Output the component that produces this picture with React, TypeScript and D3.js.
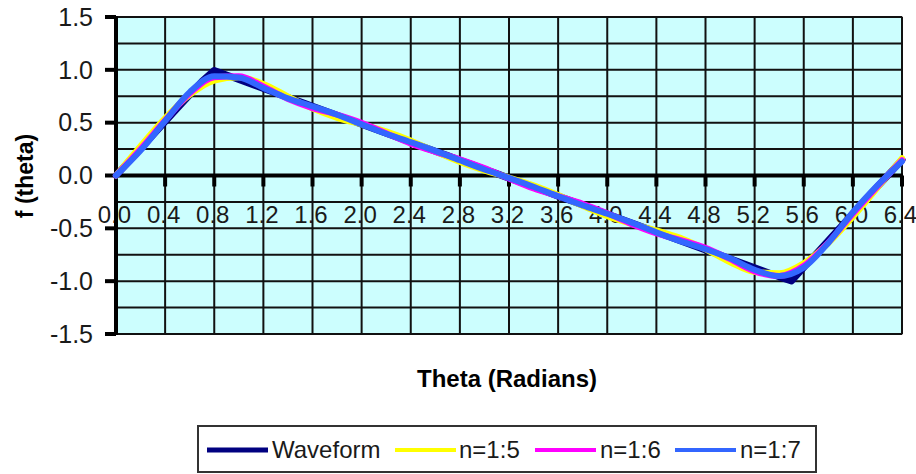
import React from "react";
import * as d3 from "d3";

// ---- data ----
const waveTheta = [
  0, 0.1, 0.2, 0.3, 0.4, 0.5, 0.6, 0.7, 0.8, 0.9, 1.0, 1.1, 1.2, 1.3, 1.4, 1.5,
  1.6, 1.7, 1.8, 1.9, 2.0, 2.1, 2.2, 2.3, 2.4, 2.5, 2.6, 2.7, 2.8, 2.9, 3.0, 3.1,
  3.2, 3.3, 3.4, 3.5, 3.6, 3.7, 3.8, 3.9, 4.0, 4.1, 4.2, 4.3, 4.4, 4.5, 4.6, 4.7,
  4.8, 4.9, 5.0, 5.1, 5.2, 5.3, 5.4, 5.5, 5.6, 5.7, 5.8, 5.9, 6.0, 6.1, 6.2, 6.3, 6.4,
];
const waveform = [
  0, 0.127, 0.255, 0.382, 0.509, 0.637, 0.764, 0.891, 0.994, 0.951, 0.909, 0.866,
  0.824, 0.782, 0.739, 0.697, 0.654, 0.612, 0.569, 0.527, 0.485, 0.442, 0.4, 0.357,
  0.315, 0.272, 0.23, 0.188, 0.145, 0.103, 0.06, 0.018, -0.025, -0.067, -0.11, -0.152,
  -0.195, -0.237, -0.279, -0.322, -0.364, -0.407, -0.449, -0.492, -0.534, -0.577,
  -0.619, -0.662, -0.704, -0.746, -0.789, -0.831, -0.874, -0.916, -0.959, -0.998,
  -0.87, -0.743, -0.615, -0.488, -0.361, -0.233, -0.106, 0.021, 0.149,
];
const fourierTheta = [
  0, 0.2, 0.4, 0.6, 0.8, 1.0, 1.2, 1.4, 1.6, 1.8, 2.0, 2.2, 2.4, 2.6, 2.8, 3.0, 3.2,
  3.4, 3.6, 3.8, 4.0, 4.2, 4.4, 4.6, 4.8, 5.0, 5.2, 5.4, 5.6, 5.8, 6.0, 6.2, 6.4,
];
const n15 = [
  0, 0.279, 0.543, 0.762, 0.899, 0.93, 0.866, 0.749, 0.633, 0.546, 0.483, 0.418,
  0.331, 0.227, 0.128, 0.047, -0.019, -0.092, -0.184, -0.289, -0.385, -0.458, -0.519,
  -0.593, -0.699, -0.821, -0.913, -0.925, -0.83, -0.641, -0.392, -0.117, 0.164,
];
const n16 = [
  0, 0.251, 0.522, 0.775, 0.929, 0.939, 0.842, 0.724, 0.638, 0.576, 0.499, 0.4,
  0.302, 0.224, 0.154, 0.07, -0.029, -0.122, -0.196, -0.267, -0.357, -0.46, -0.547,
  -0.612, -0.684, -0.791, -0.907, -0.95, -0.855, -0.634, -0.362, -0.103, 0.144,
];
const n17 = [
  0, 0.236, 0.517, 0.789, 0.939, 0.928, 0.829, 0.73, 0.654, 0.575, 0.484, 0.395,
  0.316, 0.233, 0.144, 0.057, -0.023, -0.106, -0.197, -0.283, -0.362, -0.446, -0.538,
  -0.623, -0.696, -0.784, -0.892, -0.952, -0.871, -0.638, -0.348, -0.094, 0.133,
];
const xTickLabels = [
  "0.0", "0.4", "0.8", "1.2", "1.6", "2.0", "2.4", "2.8", "3.2", "3.6", "4.0", "4.4",
  "4.8", "5.2", "5.6", "6.0", "6.4",
];
const yTickLabels = ["-1.5", "-1.0", "-0.5", "0.0", "0.5", "1.0", "1.5"];
const yGridValues = [-1.5, -1.25, -1, -0.75, -0.5, -0.25, 0, 0.25, 0.5, 0.75, 1, 1.25, 1.5];
const seriesNames = ["Waveform", "n=1:5", "n=1:6", "n=1:7"];
const seriesColors = ["#000080", "#ffff00", "#ff00ff", "#3366ff"];

const FONT = "'Liberation Sans', Arial, sans-serif";

export default function App() {
  const W = 916;
  const H = 474;
  const x = d3.scaleLinear().domain([0, 6.4]).range([116, 902]);
  const y = d3.scaleLinear().domain([-1.5, 1.5]).range([334, 17]);

  const mkLine = (xs: number[], ys: number[], smooth: boolean) =>
    d3
      .line<number>()
      .x((_, i) => x(xs[i]))
      .y((d) => y(d))
      .curve(smooth ? d3.curveMonotoneX : d3.curveLinear)(ys) || "";

  const series = [
    { xs: waveTheta, ys: waveform, w: 7, smooth: false },
    { xs: fourierTheta, ys: n15, w: 6, smooth: true },
    { xs: fourierTheta, ys: n16, w: 6, smooth: true },
    { xs: fourierTheta, ys: n17, w: 6, smooth: true },
  ];

  const xTicks = xTickLabels.map((l) => +l);
  const yTicks = yTickLabels.map((l) => +l);

  const legendItems = [
    { lx: 207, tx: 272 },
    { lx: 395, tx: 459 },
    { lx: 535, tx: 600 },
    { lx: 675, tx: 740 },
  ];

  return (
    <svg
      width={W}
      height={H}
      style={{ position: "absolute", left: 0, top: 0, background: "#fff" }}
      fontFamily={FONT}
    >
      {/* plot background */}
      <rect x={x(0)} y={y(1.5)} width={x(6.4) - x(0)} height={y(-1.5) - y(1.5)} fill="#ccfefe" stroke="#888" strokeWidth={1.5} />
      {/* horizontal grid */}
      {yGridValues.map((v) => (
        <line key={"hg" + v} x1={x(0)} x2={x(6.4)} y1={y(v)} y2={y(v)} stroke="#111" strokeWidth={2} />
      ))}
      {/* vertical grid */}
      {xTicks.slice(1).map((v) => (
        <line key={"vg" + v} x1={x(v)} x2={x(v)} y1={y(1.5)} y2={y(-1.5)} stroke="#111" strokeWidth={2} />
      ))}
      {/* x axis */}
      <line x1={x(0)} x2={x(6.4) + 1} y1={y(0)} y2={y(0)} stroke="#000" strokeWidth={4} />
      {xTicks.map((v) => (
        <line key={"xt" + v} x1={x(v)} x2={x(v)} y1={y(0)} y2={y(0) + 11} stroke="#000" strokeWidth={4} />
      ))}
      {xTickLabels.map((l, i) => (
        <text key={"xl" + l} x={x(xTicks[i]) - 1.5} y={223} textAnchor="middle" fontSize={24} fill="#1a1a1a">
          {l}
        </text>
      ))}
      {/* y axis */}
      <line x1={x(0)} x2={x(0)} y1={y(1.5) - 1} y2={y(-1.5) + 1} stroke="#000" strokeWidth={4} />
      {yTicks.map((v) => (
        <line key={"yt" + v} x1={x(0) - 11} x2={x(0)} y1={y(v)} y2={y(v)} stroke="#000" strokeWidth={4} />
      ))}
      {yTickLabels.map((l, i) => (
        <text key={"yl" + l} x={93} y={y(yTicks[i])} dy="0.35em" textAnchor="end" fontSize={25} fill="#1a1a1a">
          {l}
        </text>
      ))}
      {/* series */}
      <g>
        {series.map((s, i) => (
          <path
            key={"s" + i}
            d={mkLine(s.xs, s.ys, s.smooth)}
            fill="none"
            stroke={seriesColors[i]}
            strokeWidth={s.w}
            strokeLinejoin="round"
            strokeLinecap="round"
          />
        ))}
      </g>
      {/* titles */}
      <text x={507} y={387} textAnchor="middle" fontSize={24} fontWeight="bold" fill="#000">
        Theta (Radians)
      </text>
      <text
        transform="translate(25,176) rotate(-90)"
        textAnchor="middle"
        dy="0.35em"
        fontSize={23}
        fontWeight="bold"
        fill="#000"
      >
        f (theta)
      </text>
      {/* legend */}
      <rect x={198} y={426} width={618} height={46} fill="#fff" stroke="#333" strokeWidth={2} />
      {seriesNames.map((n, i) => (
        <g key={"lg" + n}>
          <line
            x1={legendItems[i].lx}
            x2={legendItems[i].lx + 61}
            y1={450}
            y2={450}
            stroke={seriesColors[i]}
            strokeWidth={i === 0 ? 5 : 4}
          />
          <text x={legendItems[i].tx} y={450} dy="0.35em" fontSize={24} fill="#1a1a1a">
            {n}
          </text>
        </g>
      ))}
    </svg>
  );
}
